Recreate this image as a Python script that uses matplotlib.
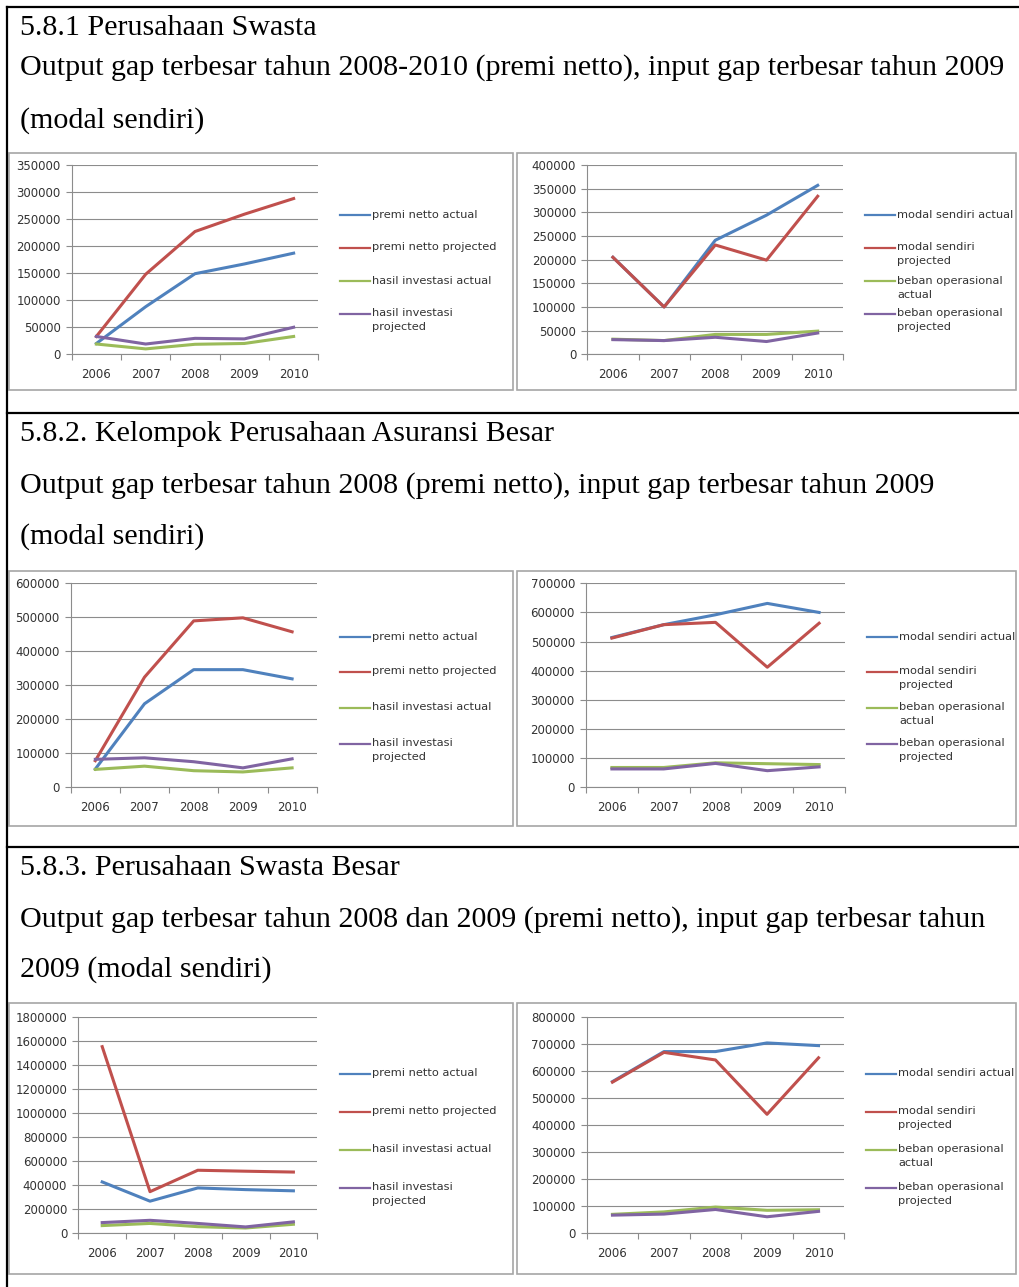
import matplotlib
matplotlib.use("Agg")
from matplotlib import pyplot as plt
from matplotlib.lines import Line2D
from matplotlib.patches import Rectangle

W, H = 1019, 1287

years = ["2006", "2007", "2008", "2009", "2010"]

# 5.8.1 Perusahaan Swasta
swasta_premi_actual = [20000, 88000, 149000, 167000, 187000]
swasta_premi_projected = [33000, 148000, 227000, 259000, 288000]
swasta_hasil_actual = [19000, 10000, 18500, 20000, 33000]
swasta_hasil_projected = [33000, 19000, 29500, 28500, 50000]
swasta_modal_actual = [205000, 100000, 241000, 294000, 357000]
swasta_modal_projected = [205000, 100000, 231000, 199000, 334000]
swasta_beban_actual = [32000, 29000, 42000, 42000, 49000]
swasta_beban_projected = [31000, 29000, 36000, 27000, 45000]

# 5.8.2 Kelompok Perusahaan Asuransi Besar
besar_premi_actual = [53500, 245000, 345000, 345000, 318000]
besar_premi_projected = [78000, 323000, 488000, 497000, 456000]
besar_hasil_actual = [52500, 62000, 48700, 45000, 57000]
besar_hasil_projected = [82000, 86500, 75000, 57000, 83500]
besar_modal_actual = [514000, 558000, 592000, 631000, 600000]
besar_modal_projected = [512000, 558000, 566000, 412000, 563000]
besar_beban_actual = [68000, 68000, 84000, 81000, 78000]
besar_beban_projected = [63000, 63000, 82000, 57000, 70000]

# 5.8.3 Perusahaan Swasta Besar
sb_premi_actual = [427000, 267000, 377000, 363000, 353000]
sb_premi_projected = [1551000, 346000, 524000, 516000, 509000]
sb_hasil_actual = [64000, 82000, 55000, 44000, 75000]
sb_hasil_projected = [89000, 108000, 82000, 53000, 95000]
sb_modal_actual = [560000, 671000, 671000, 703000, 693000]
sb_modal_projected = [558000, 668000, 640000, 439000, 648000]
sb_beban_actual = [69000, 78000, 96000, 84000, 86000]
sb_beban_projected = [66000, 70000, 87000, 60000, 80000]

premi_labels = ["premi netto actual", "premi netto projected",
                "hasil investasi actual", "hasil investasi\nprojected"]
modal_labels = ["modal sendiri actual", "modal sendiri\nprojected",
                "beban operasional\nactual", "beban operasional\nprojected"]

colors = ["#4F81BD", "#C0504D", "#9BBB59", "#8064A2"]
grid_col = "#8C8C8C"
text_col = "#333333"

headings = [
    ("5.8.1 Perusahaan Swasta",
     "Output gap terbesar tahun 2008-2010 (premi netto), input gap terbesar tahun 2009",
     "(modal sendiri)"),
    ("5.8.2. Kelompok Perusahaan Asuransi Besar",
     "Output gap terbesar tahun 2008 (premi netto), input gap terbesar tahun 2009",
     "(modal sendiri)"),
    ("5.8.3. Perusahaan Swasta Besar",
     "Output gap terbesar tahun 2008 dan 2009 (premi netto), input gap terbesar tahun",
     "2009 (modal sendiri)"),
]
heading_baselines = [(35, 75, 128), (441, 493, 544), (875, 927, 977)]


def fig_box(x0, y0, x1, y1):
    # pixel box (top-left origin) -> figure fraction rect
    return [x0 / W, 1 - y1 / H, (x1 - x0) / W, (y1 - y0) / H]


def draw_chart(fig, box, ymax, ystep, series, labels, legend_x, legend_rows):
    ax = fig.add_axes(fig_box(*box))
    xs = [i + 0.5 for i in range(len(years))]
    for vals, c in zip(series, colors):
        ax.plot(xs, vals, color=c, lw=2.2, solid_joinstyle="round", zorder=3)

    ax.set_xlim(0, len(years))
    ax.set_ylim(0, ymax)
    ax.set_yticks(range(0, ymax + 1, ystep))
    ax.set_yticklabels([str(v) for v in range(0, ymax + 1, ystep)])
    ax.set_xticks(range(len(years) + 1))
    ax.set_xticklabels([])
    ax.set_xticks(xs, minor=True)
    ax.set_xticklabels(years, minor=True)
    ax.tick_params(axis="x", which="major", length=4, color=grid_col, direction="out")
    ax.tick_params(axis="x", which="minor", length=0, pad=10, labelsize=8.5, labelcolor=text_col)
    ax.tick_params(axis="y", length=4, color=grid_col, pad=4, labelsize=8.5, labelcolor=text_col)
    ax.yaxis.grid(True, color=grid_col, lw=0.8)
    ax.set_axisbelow(True)
    for s in ("top", "right"):
        ax.spines[s].set_visible(False)
    for s in ("left", "bottom"):
        ax.spines[s].set_color(grid_col)
        ax.spines[s].set_linewidth(0.8)
    ax.patch.set_alpha(0)

    # legend: short line, label starting right of it, first line level with the line
    for lab, c, ry in zip(labels, colors, legend_rows):
        fig.add_artist(Line2D([legend_x / W, (legend_x + 30) / W], [1 - ry / H, 1 - ry / H],
                              color=c, lw=1.6))
        fig.text((legend_x + 32) / W, 1 - (ry - 5.5) / H, lab, fontsize=8.2, color=text_col,
                 va="top", ha="left", linespacing=1.5)
    return ax


def main():
    fig = plt.figure(figsize=(W / 100, H / 100), dpi=100)

    # table frame
    fig.add_artist(Line2D([7 / W, 1], [1 - 7 / H, 1 - 7 / H], color="black", lw=1.6))
    fig.add_artist(Line2D([7 / W, 7 / W], [1 - 7 / H, 0], color="black", lw=1.6))
    for yy in (412.5, 846.5):
        fig.add_artist(Line2D([7 / W, 1], [1 - yy / H, 1 - yy / H], color="black", lw=1.6))

    # chart frames
    for top, bot in ((153, 390), (571, 826), (1003, 1274)):
        for x0, x1 in ((8.5, 513), (517, 1016)):
            fig.add_artist(Rectangle((x0 / W, 1 - bot / H), (x1 - x0) / W, (bot - top) / H,
                                     fill=False, ec="#A6A6A6", lw=1.2))

    for (l1, l2, l3), (b1, b2, b3) in zip(headings, heading_baselines):
        for txt, b in ((l1, b1), (l2, b2), (l3, b3)):
            fig.text(20 / W, 1 - b / H, txt, fontsize=21.6, family="Liberation Serif",
                     va="baseline", ha="left", color="black")

    rows1 = (215, 248, 281, 314)
    rows2 = (637, 672, 708, 744)
    rows3 = (1074, 1112, 1150, 1188)

    draw_chart(fig, (71.7, 165, 318.3, 354.3), 350000, 50000,
               [swasta_premi_actual, swasta_premi_projected, swasta_hasil_actual, swasta_hasil_projected],
               premi_labels, 340, rows1)
    draw_chart(fig, (587.3, 165, 843.3, 354.3), 400000, 50000,
               [swasta_modal_actual, swasta_modal_projected, swasta_beban_actual, swasta_beban_projected],
               modal_labels, 865, rows1)

    draw_chart(fig, (70.7, 582.7, 316.7, 787.3), 600000, 100000,
               [besar_premi_actual, besar_premi_projected, besar_hasil_actual, besar_hasil_projected],
               premi_labels, 340, rows2)
    draw_chart(fig, (586, 583.3, 845, 787.3), 700000, 100000,
               [besar_modal_actual, besar_modal_projected, besar_beban_actual, besar_beban_projected],
               modal_labels, 867, rows2)

    draw_chart(fig, (78.3, 1016.7, 317.3, 1233.3), 1800000, 200000,
               [sb_premi_actual, sb_premi_projected, sb_hasil_actual, sb_hasil_projected],
               premi_labels, 340, rows3)
    draw_chart(fig, (586.7, 1016.7, 844.3, 1233), 800000, 100000,
               [sb_modal_actual, sb_modal_projected, sb_beban_actual, sb_beban_projected],
               modal_labels, 866, rows3)

    fig.savefig("out.png", dpi=100)


if __name__ == "__main__":
    main()
